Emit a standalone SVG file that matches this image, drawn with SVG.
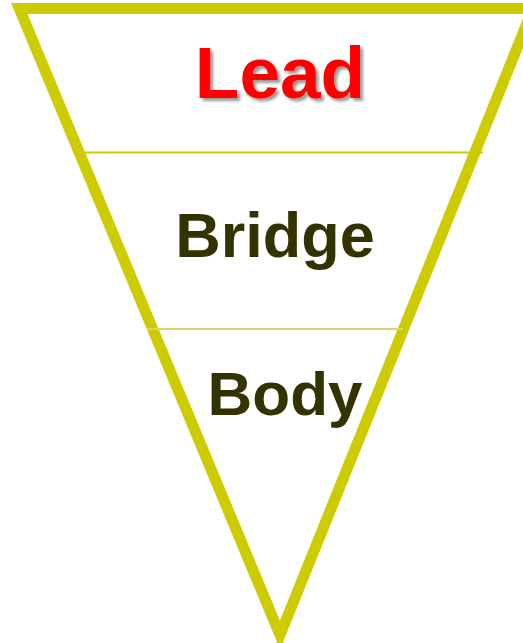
<svg xmlns="http://www.w3.org/2000/svg" width="523" height="643" viewBox="0 0 523 643">
  <defs>
    <filter id="shadow" x="-10%" y="-10%" width="130%" height="140%">
      <feGaussianBlur in="SourceAlpha" stdDeviation="1.5" result="b"/>
      <feOffset in="b" dx="3" dy="3" result="o"/>
      <feComponentTransfer in="o" result="s"><feFuncA type="linear" slope="0.4"/></feComponentTransfer>
      <feMerge><feMergeNode in="s"/><feMergeNode in="SourceGraphic"/></feMerge>
    </filter>
  </defs>
  <style>
    .label { font-family: "Liberation Sans", Arial, sans-serif; font-weight: bold; text-anchor: middle; }
    .dark { fill: #333300; }
  </style>
  <rect width="523" height="643" fill="#ffffff"/>
  <g id="funnel">
    <polygon points="19.3,8.5 533,8.5 280,635" fill="none" stroke="#CCCC00" stroke-width="11" stroke-linejoin="miter"/>
  </g>
  <g id="dividers">
    <line x1="85" y1="152.5" x2="483" y2="152.5" stroke="#CCCC00" stroke-width="2.2"/>
    <line x1="147" y1="329" x2="403" y2="329" stroke="#E0D070" stroke-width="2.2"/>
  </g>
  <g id="lead">
    <text class="label" x="280" y="98" font-size="73" fill="#FF0000" filter="url(#shadow)">Lead</text>
  </g>
  <g id="bridge">
    <text class="label dark" x="275" y="257" font-size="63">Bridge</text>
  </g>
  <g id="body">
    <text class="label dark" x="285" y="415" font-size="62">Body</text>
  </g>
</svg>
